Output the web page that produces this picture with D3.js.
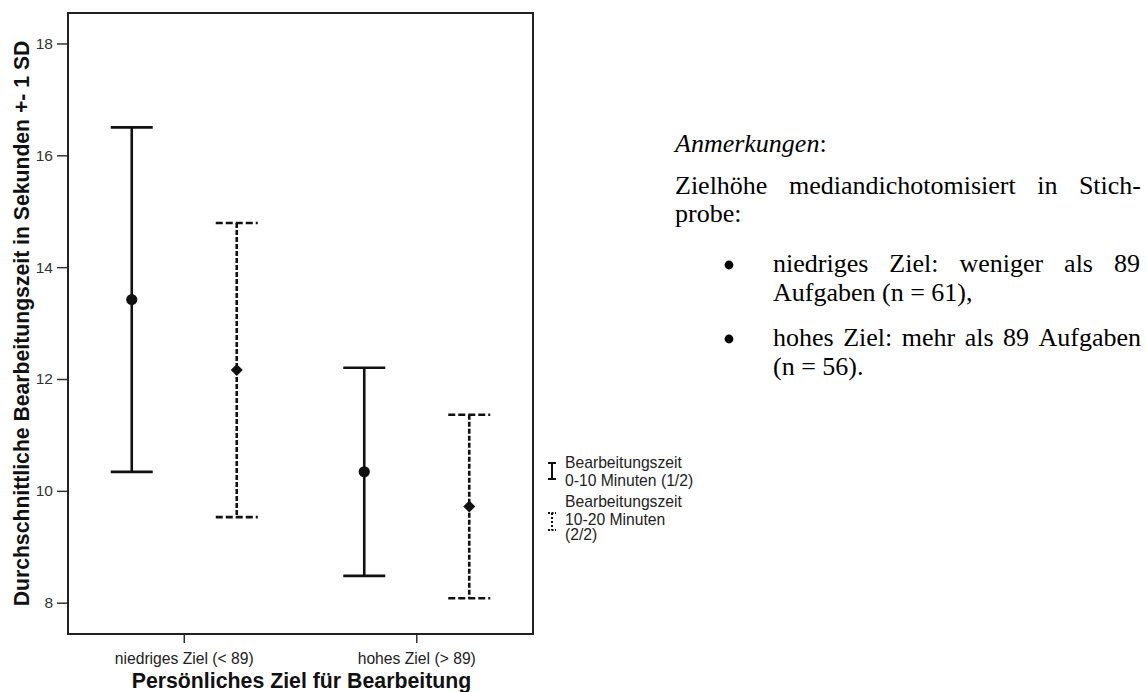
<!DOCTYPE html>
<html>
<head>
<meta charset="utf-8">
<script src="https://cdn.jsdelivr.net/npm/d3@7"></script>
<style>
  html, body { margin: 0; padding: 0; background: #ffffff; }
  svg { display: block; }
</style>
</head>
<body>
<svg id="chart" width="1147" height="692"></svg>
<script>
// Groups on the x axis
const categories = ["niedriges Ziel (< 89)", "hohes Ziel (> 89)"];
// Working-time series (solid = first half, dashed = second half)
const seriesNames = ["Bearbeitungszeit 0-10 Minuten (1/2)", "Bearbeitungszeit 10-20 Minuten (2/2)"];
const legendLines = [["Bearbeitungszeit", "0-10 Minuten (1/2)"], ["Bearbeitungszeit", "10-20 Minuten", "(2/2)"]];
// Mean working time per group (seconds)
const means0to10 = [13.42, 10.34];
const means10to20 = [12.16, 9.72];
// One standard deviation per group
const sd0to10 = [3.08, 1.86];
const sd10to20 = [2.63, 1.64];
const yTicks = [8, 10, 12, 14, 16, 18];

const yTitle = "Durchschnittliche Bearbeitungszeit in Sekunden +- 1 SD";
const xTitle = "Persönliches Ziel für Bearbeitung";

const svg = d3.select("#chart");
const sans = "'Liberation Sans', Arial, sans-serif";
const serif = "'Liberation Serif', 'Times New Roman', serif";
const ink = "#111";

const plot = { left: 68, right: 533, top: 13, bottom: 634 };

const x = d3.scaleBand().domain(categories).range([plot.left, plot.right]).padding(0);
const offset = d3.scalePoint().domain(seriesNames).range([-52.5, 52.5]);
const y = d3.scaleLinear().domain([7.44, 18.545]).range([plot.bottom, plot.top]);

const rows = [];
categories.forEach((c, i) => {
  rows.push({ cat: c, series: seriesNames[0], mean: means0to10[i], sd: sd0to10[i], dashed: false });
  rows.push({ cat: c, series: seriesNames[1], mean: means10to20[i], sd: sd10to20[i], dashed: true });
});

// Axes
const yAxis = svg.append("g")
  .attr("transform", `translate(${plot.left},0)`)
  .call(d3.axisLeft(y).tickValues(yTicks).tickSize(11).tickPadding(4).tickFormat(d3.format("d")));
yAxis.select(".domain").remove();
yAxis.selectAll(".tick line").attr("stroke", "#333").attr("stroke-width", 1.5);
yAxis.selectAll(".tick text").attr("font-family", sans).attr("font-size", 15.5).attr("fill", "#333");

const xAxis = svg.append("g")
  .attr("transform", `translate(0,${plot.bottom})`)
  .call(d3.axisBottom(x).tickSize(9).tickPadding(10));
xAxis.select(".domain").remove();
xAxis.selectAll(".tick line").attr("stroke", "#333").attr("stroke-width", 1.5);
xAxis.selectAll(".tick text").attr("font-family", sans).attr("font-size", 15.7).attr("fill", "#222");

// Frame around the plot
svg.append("rect")
  .attr("x", plot.left).attr("y", plot.top)
  .attr("width", plot.right - plot.left).attr("height", plot.bottom - plot.top)
  .attr("fill", "none").attr("stroke", "#222").attr("stroke-width", 2);

// Axis titles
svg.append("text")
  .attr("x", (plot.left + plot.right) / 2 + 1).attr("y", 688)
  .attr("text-anchor", "middle")
  .attr("font-family", sans).attr("font-weight", "bold").attr("font-size", 21.3)
  .attr("fill", ink).text(xTitle);

svg.append("text")
  .attr("transform", `translate(29,${(plot.top + plot.bottom) / 2}) rotate(-90)`)
  .attr("text-anchor", "middle")
  .attr("font-family", sans).attr("font-weight", "bold").attr("font-size", 21.2)
  .attr("fill", ink).text(yTitle);

// Error bars: mean +- 1 SD
const capHalf = 21;
const bars = svg.append("g").selectAll("g").data(rows).join("g")
  .attr("transform", d => `translate(${x(d.cat) + x.bandwidth() / 2 + offset(d.series)},0)`);

bars.append("line")
  .attr("x1", 0).attr("x2", 0)
  .attr("y1", d => y(d.mean + d.sd)).attr("y2", d => y(d.mean - d.sd))
  .attr("stroke", ink).attr("stroke-width", 2.6)
  .attr("stroke-dasharray", d => d.dashed ? "5,2" : null);

bars.selectAll("line.cap").data(d => [
  { v: d.mean + d.sd, dashed: d.dashed },
  { v: d.mean - d.sd, dashed: d.dashed }
]).join("line")
  .attr("class", "cap")
  .attr("x1", -capHalf).attr("x2", capHalf)
  .attr("y1", c => y(c.v)).attr("y2", c => y(c.v))
  .attr("stroke", ink).attr("stroke-width", 2.6)
  .attr("stroke-dasharray", c => c.dashed ? "7,3" : null);

bars.append("path")
  .attr("transform", d => `translate(0,${y(d.mean)})` + (d.dashed ? " rotate(45)" : ""))
  .attr("d", d => d.dashed
    ? d3.symbol().type(d3.symbolSquare).size(72)()
    : d3.symbol().type(d3.symbolCircle).size(Math.PI * 5.6 * 5.6)())
  .attr("fill", ink);

// Legend
const legend = svg.append("g").attr("font-family", sans).attr("font-size", 15.7).attr("fill", "#222");
const legendItems = [
  { icon: [463, 479], dashed: false, baselines: [468, 485.5] },
  { icon: [513, 530], dashed: true, baselines: [506.5, 524.5, 540] }
];
legendItems.forEach((it, i) => {
  const g = legend.append("g");
  const cx = 552;
  const dash = it.dashed ? "2,2" : null;
  g.append("line").attr("x1", cx).attr("x2", cx).attr("y1", it.icon[0]).attr("y2", it.icon[1])
    .attr("stroke", ink).attr("stroke-width", 2).attr("stroke-dasharray", dash);
  [it.icon[0], it.icon[1]].forEach(yy => {
    g.append("line").attr("x1", cx - 4).attr("x2", cx + 4).attr("y1", yy).attr("y2", yy)
      .attr("stroke", ink).attr("stroke-width", 2).attr("stroke-dasharray", it.dashed ? "2,1.5" : null);
  });
  legendLines[i].forEach((t, k) => {
    g.append("text").attr("x", 565).attr("y", it.baselines[k]).text(t);
  });
});

// Notes beside the chart (justified serif text)
const notes = svg.append("g").attr("font-family", serif).attr("font-size", 26).attr("fill", "#000");

const head = notes.append("text").attr("x", 675).attr("y", 152);
head.append("tspan").attr("font-style", "italic").text("Anmerkungen");
head.append("tspan").text(":");

function justified(words, x0, x1, baseline) {
  const g = notes.append("g");
  const nodes = words.map(w => g.append("text").attr("y", baseline).text(w));
  const widths = nodes.map(n => n.node().getComputedTextLength());
  const total = d3.sum(widths);
  const gap = (x1 - x0 - total) / (words.length - 1);
  let cur = x0;
  nodes.forEach((n, i) => { n.attr("x", cur); cur += widths[i] + gap; });
}

justified(["Zielhöhe", "mediandichotomisiert", "in", "Stich-"], 675, 1141, 194);
notes.append("text").attr("x", 675).attr("y", 222).text("probe:");

notes.append("circle").attr("cx", 729).attr("cy", 265).attr("r", 4.4).attr("fill", "#000");
justified(["niedriges", "Ziel:", "weniger", "als", "89"], 773, 1140, 272);
notes.append("text").attr("x", 773).attr("y", 301).text("Aufgaben (n = 61),");

notes.append("circle").attr("cx", 729).attr("cy", 339).attr("r", 4.4).attr("fill", "#000");
justified(["hohes", "Ziel:", "mehr", "als", "89", "Aufgaben"], 773, 1141, 346);
notes.append("text").attr("x", 773).attr("y", 375).text("(n = 56).");
</script>
</body>
</html>
